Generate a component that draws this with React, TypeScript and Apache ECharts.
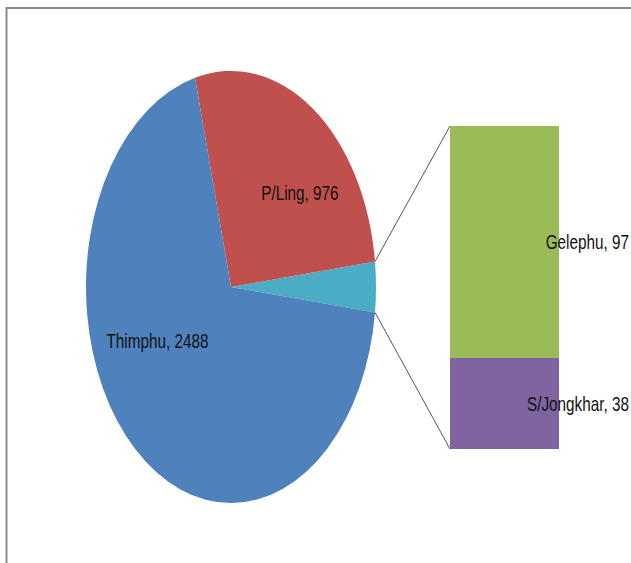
import React, { useEffect, useRef } from "react";
import * as echarts from "echarts";

// ---- data ----
const pieCategories = ["Thimphu", "P/Ling"];
const pieValues = [2488, 976];
const barCategories = ["S/Jongkhar", "Gelephu"];
const barValues = [38, 97];

// ---- layout / style ----
const PIE_CX = 231;
const PIE_CY = 287;
const PIE_RX = 145;
const PIE_RY = 216;
const BAR_LEFT = 450;
const BAR_TOP = 126;
const BAR_W = 109;
const BAR_H = 323;
const TEXT_SCALE_Y = 1.36;
const FONT = "Liberation Sans";
const FONT_SIZE = 15.3;
const PIE_COLORS = ["#4F81BD", "#C0504D"];
const OTHER_COLOR = "#4BACC6";
const BAR_COLORS = ["#8064A2", "#9BBB59"];
const LABEL_FRAC: Record<string, [number, number]> = {
  Thimphu: [0.77, 0.33],
  "P/Ling": [0.84, 0.53],
};

export default function App() {
  const ref = useRef<HTMLDivElement>(null);
  useEffect(() => {
    if (!ref.current) return;
    const chart = echarts.init(ref.current, undefined, { renderer: "svg" });

    const otherValue = barValues.reduce((a, b) => a + b, 0);
    const total = pieValues.reduce((a, b) => a + b, 0) + otherValue;
    const half = (otherValue / total) * 180; // degrees
    // slices counter-clockwise starting after "Other": P/Ling, then Thimphu
    const ccwOrder = [1, 0];
    const slices: { name: string; value: number; a1: number; a2: number; color: string }[] = [];
    slices.push({ name: "Other", value: otherValue, a1: -half, a2: half, color: OTHER_COLOR });
    let acc = half;
    ccwOrder.forEach((i) => {
      const span = (pieValues[i] / total) * 360;
      slices.push({ name: pieCategories[i], value: pieValues[i], a1: acc, a2: acc + span, color: PIE_COLORS[i] });
      acc += span;
    });

    const d2r = Math.PI / 180;
    const ptOnPie = (deg: number, f = 1) => [
      PIE_CX + PIE_RX * f * Math.cos(deg * d2r),
      PIE_CY - PIE_RY * f * Math.sin(deg * d2r),
    ];

    // bar stacked data
    let cum = 0;
    const barData = barCategories.map((c, i) => {
      const s = cum;
      cum += barValues[i];
      return [0, s, cum, barValues[i], i];
    });

    const textStyle = (text: string, align: string) => ({
      text,
      fill: "#111",
      fontSize: FONT_SIZE,
      fontFamily: FONT,
      align,
      verticalAlign: "middle",
    });

    chart.setOption({
      animation: false,
      backgroundColor: "#fff",
      grid: { left: BAR_LEFT, top: BAR_TOP, width: BAR_W, height: BAR_H },
      xAxis: { type: "category", data: ["Other"], show: false },
      yAxis: { type: "value", min: 0, max: otherValue, show: false },
      graphic: [
        {
          type: "rect",
          shape: { x: 6.5, y: 8, width: 700, height: 700 },
          style: { fill: "none", stroke: "#8a8a8a", lineWidth: 2 },
          z: 0,
        },
      ],
      series: [
        {
          type: "custom",
          coordinateSystem: "none",
          data: slices.map((s) => [s.a1, s.a2, s.value]),
          renderItem: (params: any) => {
            const s = slices[params.dataIndex];
            const children: any[] = [
              {
                type: "sector",
                x: PIE_CX,
                y: PIE_CY,
                scaleY: PIE_RY / PIE_RX,
                shape: {
                  cx: 0,
                  cy: 0,
                  r0: 0,
                  r: PIE_RX,
                  startAngle: -s.a2 * d2r,
                  endAngle: -s.a1 * d2r,
                  clockwise: true,
                },
                style: { fill: s.color },
              },
            ];
            if (s.name === "Other") {
              const p1 = ptOnPie(s.a2);
              const p2 = ptOnPie(s.a1);
              children.push(
                {
                  type: "line",
                  shape: { x1: p1[0], y1: p1[1], x2: BAR_LEFT, y2: BAR_TOP },
                  style: { stroke: "#555", lineWidth: 1 },
                },
                {
                  type: "line",
                  shape: { x1: p2[0], y1: p2[1], x2: BAR_LEFT, y2: BAR_TOP + BAR_H },
                  style: { stroke: "#555", lineWidth: 1 },
                }
              );
            } else {
              const mid = (s.a1 + s.a2) / 2;
              const f = LABEL_FRAC[s.name];
              const lx = PIE_CX + PIE_RX * f[0] * Math.cos(mid * d2r);
              const ly = PIE_CY - PIE_RY * f[1] * Math.sin(mid * d2r);
              children.push({
                type: "text",
                x: lx,
                y: ly,
                scaleY: TEXT_SCALE_Y,
                style: textStyle(`${s.name}, ${s.value}`, "center"),
                z2: 10,
              });
            }
            return { type: "group", children };
          },
        },
        {
          type: "custom",
          coordinateSystem: "cartesian2d",
          encode: { x: 0, y: [1, 2] },
          data: barData,
          renderItem: (params: any, api: any) => {
            const i = api.value(4);
            const top = api.coord([api.value(0), api.value(2)]);
            const bot = api.coord([api.value(0), api.value(1)]);
            const bw = api.size([1, 0])[0];
            const x = top[0] - bw / 2;
            return {
              type: "group",
              children: [
                {
                  type: "rect",
                  shape: { x, y: top[1], width: bw, height: bot[1] - top[1] },
                  style: { fill: BAR_COLORS[i] },
                },
                {
                  type: "text",
                  x: x + bw + 70,
                  y: (top[1] + bot[1]) / 2,
                  scaleY: TEXT_SCALE_Y,
                  style: textStyle(`${barCategories[i]}, ${barValues[i]}`, "right"),
                  z2: 10,
                },
              ],
            };
          },
        },
      ],
    });
    return () => chart.dispose();
  }, []);
  return (
    <div
      ref={ref}
      style={{ position: "fixed", left: 0, top: 0, width: 631, height: 563 }}
    />
  );
}
